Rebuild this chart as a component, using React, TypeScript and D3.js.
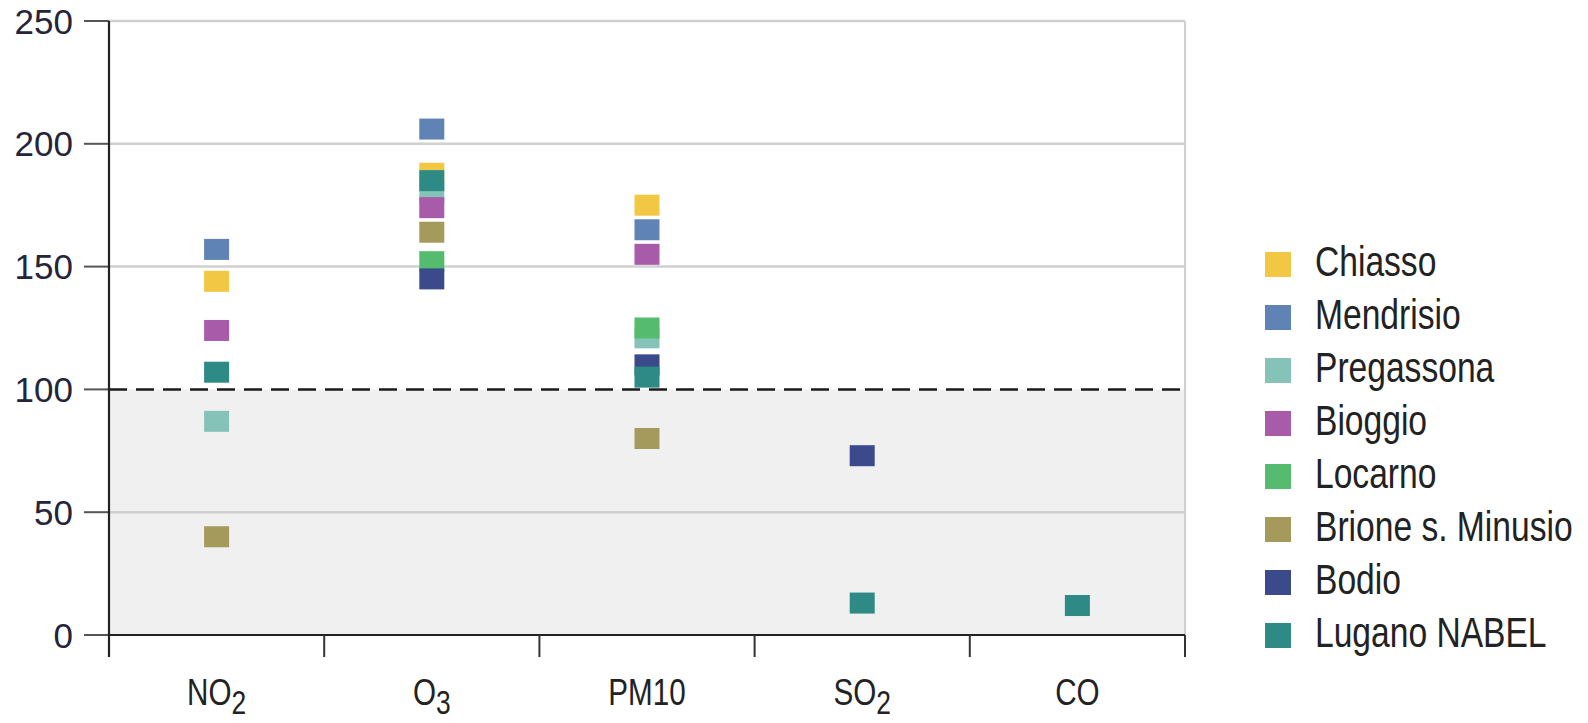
import React from "react";
import * as d3 from "d3";

const pollutants = ["NO2", "O3", "PM10", "SO2", "CO"];
const pollutantMain = ["NO", "O", "PM10", "SO", "CO"];
const pollutantSub = ["2", "3", "", "2", ""];
const stations = ["Chiasso", "Mendrisio", "Pregassona", "Bioggio", "Locarno", "Brione s. Minusio", "Bodio", "Lugano NABEL"];
const stationColors = ["#f2c744", "#5f83b4", "#85c2b8", "#a75ba8", "#55bb6e", "#a39a5c", "#3a4a8a", "#2e8a85"];

const chiasso = [144, 188, 175, null, null];
const mendrisio = [157, 206, 165, null, null];
const pregassona = [87, 180, 121, null, null];
const bioggio = [124, 174, 155, null, null];
const locarno = [null, 152, 125, null, null];
const brione = [40, 164, 80, null, null];
const bodio = [null, 145, 110, 73, null];
const lugano = [107, 185, 105, 13, 12];
const seriesValues = [chiasso, mendrisio, pregassona, bioggio, locarno, brione, bodio, lugano];

const yTicks = [0, 50, 100, 150, 200, 250];
const threshold = 100;

const W = 1588;
const H = 723;
const left = 109;
const right = 1185;
const top = 21;
const bottom = 635;

export default function App() {
  const x = d3.scaleBand<string>().domain(pollutants).range([left, right]).padding(0);
  const y = d3.scaleLinear().domain([0, 250]).range([bottom, top]);
  const bw = x.bandwidth();
  const mw = 25;
  const mh = 21;
  const sans = "'Liberation Sans', Arial, sans-serif";

  return (
    <svg width={W} height={H} style={{ position: "absolute", left: 0, top: 0, background: "#fff" }}>
      <rect x={left} y={y(threshold)} width={right - left} height={y(0) - y(threshold)} fill="#f0f0f0" />
      {yTicks.filter((t) => t !== 0 && t !== threshold).map((t) => (
        <line key={"g" + t} x1={left} x2={right} y1={y(t)} y2={y(t)} stroke="#d0d0d0" strokeWidth={2.5} />
      ))}
      <line x1={right} x2={right} y1={y(250)} y2={y(0)} stroke="#d0d0d0" strokeWidth={2} />
      <line x1={left} x2={right} y1={y(threshold)} y2={y(threshold)} stroke="#1a1a1a" strokeWidth={2.5} strokeDasharray="18 9" />
      {yTicks.map((t) => (
        <g key={"t" + t}>
          <line x1={84} x2={left} y1={y(t)} y2={y(t)} stroke="#555" strokeWidth={2} />
          <text x={73} y={y(t)} dy="0.36em" textAnchor="end" fontFamily={sans} fontSize={35} fill="#24243a">
            {t}
          </text>
        </g>
      ))}
      <line x1={left} x2={left} y1={y(250)} y2={657} stroke="#222" strokeWidth={2.2} />
      <line x1={left} x2={right} y1={y(0)} y2={y(0)} stroke="#222" strokeWidth={2.2} />
      {pollutants.map((p) => (
        <line key={"ct" + p} x1={(x(p) as number) + bw} x2={(x(p) as number) + bw} y1={y(0)} y2={657} stroke="#333" strokeWidth={2} />
      ))}
      {pollutants.map((p, i) => (
        <g key={"xl" + p} transform={`translate(${(x(p) as number) + bw / 2},705) scale(0.8,1)`}>
          <text x={0} y={0} textAnchor="middle" fontFamily={sans} fontSize={37} fill="#222">
            {pollutantMain[i]}
            {pollutantSub[i] ? <tspan dy={9} fontSize={33}>{pollutantSub[i]}</tspan> : null}
          </text>
        </g>
      ))}
      {seriesValues.map((vals, si) => (
        <g key={"s" + si}>
          {vals.map((v, pi) =>
            v == null ? null : (
              <rect
                key={pi}
                x={(x(pollutants[pi]) as number) + bw / 2 - mw / 2}
                y={y(v) - mh / 2}
                width={mw}
                height={mh}
                fill={stationColors[si]}
              />
            )
          )}
        </g>
      ))}
      {stations.map((s, i) => (
        <g key={"l" + s}>
          <rect x={1265} y={264.5 + i * 53 - 12.5} width={26} height={25} fill={stationColors[i]} />
          <g transform={`translate(1315,${264.5 + i * 53 + 11}) scale(0.8,1)`}>
            <text x={0} y={0} fontFamily={sans} fontSize={42} fill="#222">
              {s}
            </text>
          </g>
        </g>
      ))}
    </svg>
  );
}
